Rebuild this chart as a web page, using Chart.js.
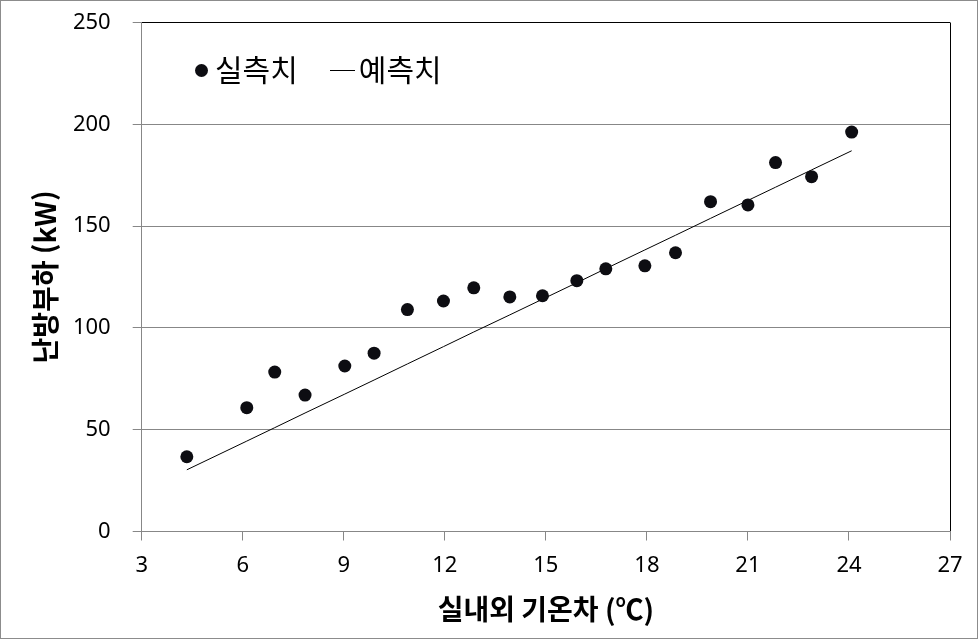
<!DOCTYPE html>
<html lang="ko">
<head>
<meta charset="utf-8">
<title>실내외 기온차와 난방부하</title>
<script src="https://cdn.jsdelivr.net/npm/chart.js@4"></script>
<style>
  html, body { margin: 0; padding: 0; background: #fff; }
  #wrap {
    position: relative; width: 978px; height: 639px;
    box-sizing: border-box; border: 1px solid #8c8c8c; background: #fff;
  }
  #chart { display: block; }
  .legend {
    position: absolute; top: 47px; left: 190px;
    font-family: "Noto Sans CJK KR", "Noto Sans", sans-serif; font-size: 30px;
    color: #000; line-height: 40px; white-space: nowrap;
  }
  .legend .dot {
    display: inline-block; width: 13px; height: 13px; border-radius: 50%;
    background: #0d0d12; vertical-align: middle; margin: 0 7px 5px 4px;
  }
  .legend .ln {
    display: inline-block; width: 25px; height: 0; border-top: 1px solid #000;
    vertical-align: middle; margin: 0 4px 5px 32px;
  }
</style>
</head>
<body>
<div id="wrap">
  <canvas id="chart" width="976" height="637"></canvas>
  <div class="legend"><span class="dot"></span>실측치<span class="ln"></span>예측치</div>
</div>

<script>
// ----- Data -----
const tempDiff  = [4.34, 6.12, 6.95, 7.85, 9.03, 9.90, 10.89, 11.96, 12.86, 13.93,
                   14.90, 15.92, 16.78, 17.94, 18.85, 19.89, 21.00, 21.82, 22.89, 24.08];
const measured  = [36.7, 60.8, 78.3, 67.0, 81.3, 87.6, 109.0, 113.2, 119.7, 115.2,
                   115.8, 123.2, 129.0, 130.5, 136.9, 162.0, 160.4, 181.2, 174.3, 196.2];
const predicted = [30.3, 44.4, 51.0, 58.2, 67.5, 74.4, 82.3, 90.8, 98.0, 106.4,
                   114.1, 122.2, 129.1, 138.3, 145.5, 153.8, 162.6, 169.1, 177.6, 187.0];
const xTicks = [3, 6, 9, 12, 15, 18, 21, 24, 27];
const yTicks = [0, 50, 100, 150, 200, 250];

const GRID = '#878787';
const tickFont  = { family: '"Noto Sans", sans-serif', size: 22 };
const titleFont = { family: '"Noto Sans CJK KR", sans-serif', size: 28, weight: 'bold' };

new Chart(document.getElementById('chart'), {
  type: 'scatter',
  data: {
    datasets: [
      {
        label: '실측치',
        data: tempDiff.map((x, i) => ({ x, y: measured[i] })),
        pointRadius: 6.5,
        pointBackgroundColor: '#0d0d12',
        pointBorderWidth: 0,
      },
      {
        label: '예측치',
        data: tempDiff.map((x, i) => ({ x, y: predicted[i] })),
        showLine: true,
        borderColor: '#000',
        borderWidth: 1,
        pointRadius: 0,
      },
    ],
  },
  options: {
    responsive: false,
    animation: false,
    layout: { padding: { top: 21.5, right: 27, left: 0, bottom: 0 } },
    plugins: { legend: { display: false }, tooltip: { enabled: false } },
    scales: {
      x: {
        type: 'linear', min: 3, max: 27,
        afterBuildTicks: s => { s.ticks = xTicks.map(v => ({ value: v })); },
        afterFit: s => { s.height = 106.5; },
        grid: {
          color: c => c.tick && c.tick.value === 27 ? '#000' : 'rgba(0,0,0,0)',
          tickColor: GRID, tickLength: 9, lineWidth: 1,
        },
        border: { color: GRID, width: 1 },
        ticks: { color: '#000', font: tickFont, padding: 12, maxRotation: 0 },
        title: {
          display: true, text: '실내외 기온차 (℃)', color: '#000',
          font: titleFont, padding: { top: 0, bottom: 12 },
        },
      },
      y: {
        min: 0, max: 250,
        afterBuildTicks: s => { s.ticks = yTicks.map(v => ({ value: v })); },
        afterFit: s => { s.width = 140.7; s.paddingTop = 0; s.paddingBottom = 0; },
        grid: {
          color: c => c.tick && c.tick.value === 250 ? '#000' : GRID,
          tickColor: GRID, tickLength: 9, lineWidth: 1,
        },
        border: { color: GRID, width: 1 },
        ticks: { color: '#000', font: tickFont, padding: 22 },
        title: {
          display: true, text: '난방부하 (kW)', color: '#000',
          font: titleFont, padding: { top: 28, bottom: 0 },
        },
      },
    },
  },
});
</script>
</body>
</html>
